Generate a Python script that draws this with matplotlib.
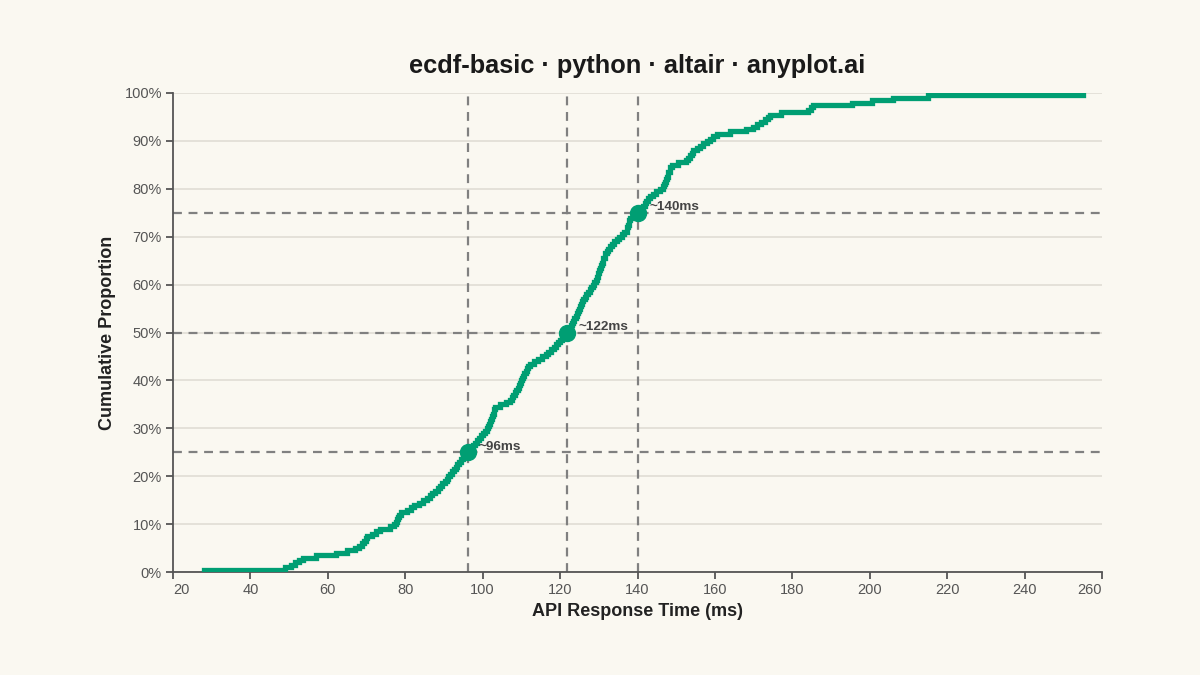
import numpy as np
import matplotlib.pyplot as plt
from matplotlib.ticker import FuncFormatter

# response times (ms), n = 200
response_ms = [
    28.0,
    49.0, 50.5, 51.5, 52.5, 53.5,
    57.0, 62.0, 65.0, 67.0,
    68.0, 68.8, 69.3, 69.8, 70.1,
    71.5, 72.5, 73.4, 76.0,
    77.0, 77.5, 77.9, 78.2, 78.5, 79.0,
    80.5, 81.5, 82.3,
    83.5, 84.5, 85.5, 86.3,
    87.0, 87.8, 88.5, 89.0, 89.6, 90.2, 90.7, 91.1, 91.5,
    92.0, 92.5, 93.0, 93.4, 93.9, 94.4, 94.9, 95.4, 95.8,
    96.2, 97.0, 97.5, 98.1, 98.6, 99.1, 99.6, 100.1,
    100.6, 101.0, 101.3, 101.6, 101.9, 102.2, 102.4, 102.6, 102.8, 103.0, 103.2,
    104.5, 106.0, 107.0,
    107.5, 107.9, 108.3, 108.6, 109.0, 109.3, 109.6,
    109.9, 110.2, 110.5, 110.8, 111.1, 111.4, 111.8, 112.2,
    113.2, 114.3, 115.4, 116.4,
    117.0, 117.7, 118.3, 118.9, 119.5, 120.0, 120.6, 121.1, 121.7,
    122.1, 122.5, 122.8, 123.1, 123.4, 123.7, 124.0, 124.3,
    124.6, 124.9, 125.2, 125.4, 125.7, 126.0,
    126.4, 126.8, 127.2, 127.6, 128.0, 128.4, 128.8, 129.2, 129.5,
    129.7, 129.9, 130.1, 130.4, 130.6, 130.8, 131.0, 131.2, 131.5, 131.7, 132.0,
    132.5, 133.0, 133.5, 134.0, 134.6,
    135.2, 135.9, 136.5, 137.2,
    137.4, 137.6, 137.8, 137.9, 138.1,
    139.0, 140.0,
    140.6, 141.0, 141.5, 141.9, 142.3, 142.7, 143.2,
    144.0, 144.9, 145.8, 146.7,
    146.9, 147.1, 147.3, 147.5, 147.8, 148.0, 148.3, 148.5, 148.8,
    150.5, 152.5,
    153.0, 153.5, 154.0, 154.4,
    155.3, 156.2, 157.0, 157.9,
    158.8, 159.6, 160.5,
    164.0, 168.0, 169.8, 170.8,
    172.0, 173.0, 173.6, 174.2,
    177.0, 184.0, 184.8, 185.4,
    195.5, 200.5, 206.0, 215.0, 255.0,
]
quartile_levels = [0.25, 0.50, 0.75]
x_ticks = list(range(20, 261, 20))
y_ticks = [i / 10 for i in range(11)]

BG = "#FAF8F1"
GREEN = "#009E73"

x = np.sort(np.array(response_ms))
y = np.arange(1, len(x) + 1) / len(x)
quartiles = np.percentile(x, [q * 100 for q in quartile_levels])

plt.rcParams['font.family'] = ['Liberation Sans', 'DejaVu Sans']

fig = plt.figure(figsize=(12, 6.75), dpi=100, facecolor=BG)
ax = fig.add_axes([173 / 1200, 1 - 572 / 675, 929 / 1200, 479 / 675])
ax.set_facecolor(BG)

# grid
for t in y_ticks:
    ax.axhline(t, color="#E2DFD7", lw=1.3, zorder=0)

# quartile reference lines
for q, lvl in zip(quartiles, quartile_levels):
    ax.axvline(q, color="#808080", lw=1.6, ls=(0, (4, 3)), zorder=1)
    ax.axhline(lvl, color="#808080", lw=1.6, ls=(0, (4, 3)), zorder=1)

ax.step(x, y, where="post", color=GREEN, lw=3.8, zorder=3, solid_joinstyle="miter")

ax.plot(quartiles, quartile_levels, "o", color=GREEN, ms=11.5, zorder=4)
for q, lvl in zip(quartiles, quartile_levels):
    ax.annotate(f"~{q:.0f}ms", (q, lvl), xytext=(8, 4), textcoords="offset points",
                fontsize=9.7, fontweight="bold", color="#444444", va="center", zorder=5)

ax.set_xlim(20, 260)
ax.set_ylim(0, 1)
ax.set_xticks(x_ticks)
ax.set_yticks(y_ticks)
ax.yaxis.set_major_formatter(FuncFormatter(lambda v, _: f"{v:.0%}"))

for side in ["top", "right"]:
    ax.spines[side].set_visible(False)
for side in ["left", "bottom"]:
    ax.spines[side].set_color("#555555")
    ax.spines[side].set_linewidth(1.3)
ax.tick_params(colors="#555555", labelcolor="#555555", labelsize=10.5,
               length=5, width=1.3, pad=3)

xlabels = ax.get_xticklabels()
xlabels[0].set_horizontalalignment("left")
xlabels[-1].set_horizontalalignment("right")

fig.text(637.5 / 1200, 1 - 66 / 675, "ecdf-basic · python · altair · anyplot.ai",
         ha="center", va="center", fontsize=18.3, fontweight="bold", color="#1A1A1A")
fig.text(637.5 / 1200, 1 - 611 / 675, "API Response Time (ms)",
         ha="center", va="center", fontsize=13, fontweight="bold", color="#222222")
fig.text(107 / 1200, 1 - 333 / 675, "Cumulative Proportion", rotation=90,
         ha="center", va="center", fontsize=13, fontweight="bold", color="#222222")

fig.savefig("out.png", dpi=100, facecolor=BG)
